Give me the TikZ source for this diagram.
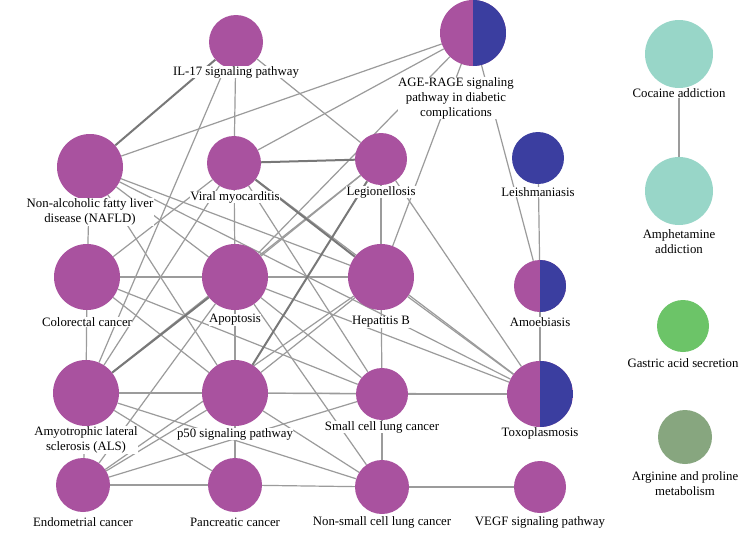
\documentclass[tikz,border=0pt]{standalone}
\usepackage{fontspec}
\setmainfont{Liberation Serif}
\definecolor{kpurple}{RGB}{169,82,159}
\definecolor{kblue}{RGB}{59,62,160}
\definecolor{kteal}{RGB}{152,214,200}
\definecolor{kgreen}{RGB}{108,196,104}
\definecolor{kolive}{RGB}{135,166,127}
\definecolor{kedge}{RGB}{155,155,155}
\definecolor{kedgedark}{RGB}{120,120,120}
\pgfdeclarelayer{bg}
\pgfsetlayers{bg,main}

\begin{document}
\begin{tikzpicture}[x=1pt,y=-1pt,
    term/.style={circle, inner sep=0pt, fill=kpurple},
    splitterm/.style={term, path picture={\fill[kblue] (path picture bounding box.north) rectangle (path picture bounding box.south east);}},
    lbl/.style={fill=white, inner sep=0.5pt, align=center, font=\fontsize{12.8}{15}\selectfont},
    link/.style={draw=kedge, line width=1.2pt},
    heavylink/.style={draw=kedgedark, line width=2pt}]
    \useasboundingbox (0,0) rectangle (744,533);

    % top row
    \node[term, minimum size=54] (il17) at (236,42) {};
    \node[lbl] (il17-t) at (236,72) {IL-17 signaling pathway};
    \node[splitterm, minimum size=66] (age) at (473,33) {};
    \node[lbl] (age-t) at (456,98) {AGE-RAGE signaling\\pathway in diabetic\\complications};
    \node[term, fill=kteal, minimum size=68] (coca) at (679,54) {};
    \node[lbl] (coca-t) at (679,93) {Cocaine addiction};

    % second row
    \node[term, minimum size=66] (nafld) at (90,167) {};
    \node[lbl] (nafld-t) at (90,212) {Non-alcoholic fatty liver\\disease (NAFLD)};
    \node[term, minimum size=54] (viral) at (234,163) {};
    \node[lbl] (viral-t) at (235,197) {Viral myocarditis};
    \node[term, minimum size=52] (legion) at (381,159) {};
    \node[lbl] (legion-t) at (381,192) {Legionellosis};
    \node[term, fill=kblue, minimum size=52] (leish) at (538,158) {};
    \node[lbl] (leish-t) at (538,192) {Leishmaniasis};
    \node[term, fill=kteal, minimum size=68] (amph) at (679,191) {};
    \node[lbl] (amph-t) at (679,242) {Amphetamine\\addiction};

    % third row
    \node[term, minimum size=66] (colo) at (87,277) {};
    \node[lbl] (colo-t) at (87,322) {Colorectal cancer};
    \node[term, minimum size=66] (apop) at (235,277) {};
    \node[lbl] (apop-t) at (235,320) {Apoptosis};
    \node[term, minimum size=66] (hepb) at (381,277) {};
    \node[lbl] (hepb-t) at (381,322) {Hepatitis B};
    \node[splitterm, minimum size=52] (amoeb) at (540,286) {};
    \node[lbl] (amoeb-t) at (540,322) {Amoebiasis};
    \node[term, fill=kgreen, minimum size=52] (gastric) at (683,326) {};
    \node[lbl] (gastric-t) at (683,363) {Gastric acid secretion};

    % fourth row
    \node[term, minimum size=66] (als) at (86,393) {};
    \node[lbl] (als-t) at (86,440) {Amyotrophic lateral\\sclerosis (ALS)};
    \node[term, minimum size=66] (p50) at (235,393) {};
    \node[lbl] (p50-t) at (235,434) {p50 signaling pathway};
    \node[term, minimum size=52] (small) at (382,394) {};
    \node[lbl] (small-t) at (382,427) {Small cell lung cancer};
    \node[splitterm, minimum size=66] (toxo) at (540,394) {};
    \node[lbl] (toxo-t) at (540,433) {Toxoplasmosis};
    \node[term, fill=kolive, minimum size=54] (argin) at (685,437) {};
    \node[lbl] (argin-t) at (685,484) {Arginine and proline\\metabolism};

    % bottom row
    \node[term, minimum size=54] (endo) at (83,485) {};
    \node[lbl] (endo-t) at (83,522) {Endometrial cancer};
    \node[term, minimum size=54] (pancr) at (235,485) {};
    \node[lbl] (pancr-t) at (235,522) {Pancreatic cancer};
    \node[term, minimum size=54] (nonsmall) at (382,487) {};
    \node[lbl] (nonsmall-t) at (382,522) {Non-small cell lung cancer};
    \node[term, minimum size=52] (vegf) at (540,487) {};
    \node[lbl] (vegf-t) at (540,522) {VEGF signaling pathway};

    \begin{pgfonlayer}{bg}
        \fill[white] (0,0) rectangle (744,533);
        \foreach \a/\b in {il17/viral, il17/legion, il17/als,
            age/nafld, age/viral, age/hepb, age/amoeb, age/apop,
            viral/apop, viral/colo, viral/als, viral/small, viral/toxo,
            nafld/colo, nafld/hepb, nafld/p50, nafld/toxo, nafld/apop,
            legion/hepb, legion/toxo, legion/apop, legion/als,
            leish/amoeb, amoeb/toxo,
            colo/apop, apop/hepb, colo/als, colo/p50, colo/small,
            apop/p50, apop/toxo, apop/small, apop/endo, apop/nonsmall,
            hepb/small, hepb/toxo, hepb/p50, hepb/endo,
            als/p50, p50/small, als/endo, als/pancr, als/nonsmall,
            p50/pancr, p50/endo, p50/nonsmall, p50/toxo,
            small/toxo, small/nonsmall, small/endo,
            endo/pancr, pancr/nonsmall, nonsmall/vegf, coca/amph}
            \draw[link] (\a) -- (\b);
        \foreach \a/\b in {il17/nafld, viral/legion, apop/als, viral/hepb, legion/p50}
            \draw[heavylink] (\a) -- (\b);
    \end{pgfonlayer}
\end{tikzpicture}
\end{document}
